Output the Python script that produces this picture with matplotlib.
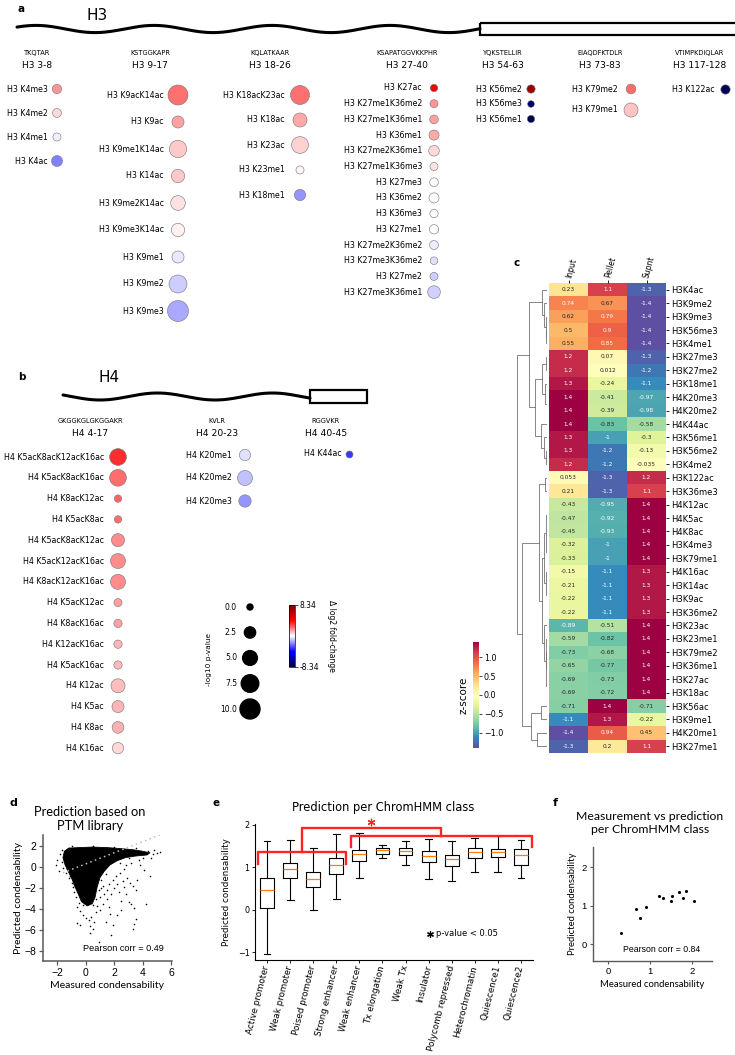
import numpy as np
import matplotlib
matplotlib.use('Agg')
import matplotlib.pyplot as plt
import seaborn as sns
from matplotlib.colors import Normalize
from matplotlib.cm import ScalarMappable
from matplotlib.patches import Rectangle

# ---------------- panel a: H3 peptides ----------------
h3_seq = ['TKQTAR', 'KSTGGKAPR', 'KQLATKAAR', 'KSAPATGGVKKPHR',
          'YQKSTELLIR', 'EIAQDFKTDLR', 'VTIMPKDIQLAR']
h3_region = ['H3 3-8', 'H3 9-17', 'H3 18-26', 'H3 27-40',
             'H3 54-63', 'H3 73-83', 'H3 117-128']
h3_marks = [
    ['H3 K4me3', 'H3 K4me2', 'H3 K4me1', 'H3 K4ac'],
    ['H3 K9acK14ac', 'H3 K9ac', 'H3 K9me1K14ac', 'H3 K14ac', 'H3 K9me2K14ac',
     'H3 K9me3K14ac', 'H3 K9me1', 'H3 K9me2', 'H3 K9me3'],
    ['H3 K18acK23ac', 'H3 K18ac', 'H3 K23ac', 'H3 K23me1', 'H3 K18me1'],
    ['H3 K27ac', 'H3 K27me1K36me2', 'H3 K27me1K36me1', 'H3 K36me1',
     'H3 K27me2K36me1', 'H3 K27me1K36me3', 'H3 K27me3', 'H3 K36me2',
     'H3 K36me3', 'H3 K27me1', 'H3 K27me2K36me2', 'H3 K27me3K36me2',
     'H3 K27me2', 'H3 K27me3K36me1'],
    ['H3 K56me2', 'H3 K56me3', 'H3 K56me1'],
    ['H3 K79me2', 'H3 K79me1'],
    ['H3 K122ac'],
]
h3_fc = [
    [1.7, 0.65, -0.25, -2.05],
    [2.3, 1.5, 0.9, 0.85, 0.5, 0.25, -0.33, -0.83, -1.4],
    [2.3, 1.4, 0.75, 0.15, -1.7],
    [4.5, 1.7, 1.5, 1.4, 0.65, 0.5, 0.05, 0.02, 0.0, -0.05, -0.3, -0.5, -0.8, -0.75],
    [7.3, -7.6, -8.3],
    [2.4, 0.95],
    [-8.0],
]
h3_p = [
    [1.4, 1.2, 0.8, 2.3],
    [10, 3, 7.3, 3.9, 4.9, 3.9, 3, 7.9, 11.1],
    [8.9, 4.4, 6.7, 0.8, 2.5],
    [0.5, 0.8, 1.1, 1.8, 2.1, 0.8, 1.1, 1.8, 0.9, 1.4, 1.2, 0.6, 0.8, 3.4],
    [0.9, 0.25, 0.5],
    [1.6, 4.4],
    [1.4],
]

# ---------------- panel b: H4 peptides ----------------
h4_seq = ['GKGGKGLGKGGAKR', 'KVLR', 'RGGVKR']
h4_region = ['H4 4-17', 'H4 20-23', 'H4 40-45']
h4_marks = [
    ['H4 K5acK8acK12acK16ac', 'H4 K5acK8acK16ac', 'H4 K8acK12ac', 'H4 K5acK8ac',
     'H4 K5acK8acK12ac', 'H4 K5acK12acK16ac', 'H4 K8acK12acK16ac', 'H4 K5acK12ac',
     'H4 K8acK16ac', 'H4 K12acK16ac', 'H4 K5acK16ac', 'H4 K12ac', 'H4 K5ac',
     'H4 K8ac', 'H4 K16ac'],
    ['H4 K20me1', 'H4 K20me2', 'H4 K20me3'],
    ['H4 K44ac'],
]
h4_fc = [
    [3.4, 2.4, 2.5, 2.4, 1.85, 1.85, 1.85, 1.55, 1.5, 1.2, 1.15, 1.05, 1.2, 1.3, 0.65],
    [-0.5, -1.0, -1.7],
    [-3.2],
]
h4_p = [
    [6.7, 6.7, 0.5, 0.5, 3.7, 5.2, 5.2, 0.8, 0.9, 0.9, 0.9, 4.4, 3.0, 2.8, 2.5],
    [2.5, 5.2, 3.2],
    [0.36],
]
legend_p = [0.0, 2.5, 5.0, 7.5, 10.0]
fc_lim = 8.34

# ---------------- panel c: z-scored heatmap ----------------
heat_cols = ['Input', 'Pellet', 'Supnt']
heat_rows = ['H3K4ac', 'H3K9me2', 'H3K9me3', 'H3K56me3', 'H3K4me1', 'H3K27me3',
             'H3K27me2', 'H3K18me1', 'H4K20me3', 'H4K20me2', 'H4K44ac', 'H3K56me1',
             'H3K56me2', 'H3K4me2', 'H3K122ac', 'H3K36me3', 'H4K12ac', 'H4K5ac',
             'H4K8ac', 'H3K4me3', 'H3K79me1', 'H4K16ac', 'H3K14ac', 'H3K9ac',
             'H3K36me2', 'H3K23ac', 'H3K23me1', 'H3K79me2', 'H3K36me1', 'H3K27ac',
             'H3K18ac', 'H3K56ac', 'H3K9me1', 'H4K20me1', 'H3K27me1']
heat_input = [0.23, 0.74, 0.62, 0.5, 0.55, 1.2, 1.2, 1.3, 1.4, 1.4, 1.4, 1.3, 1.3, 1.2,
              0.053, 0.21, -0.43, -0.47, -0.45, -0.32, -0.33, -0.15, -0.21, -0.22,
              -0.22, -0.89, -0.59, -0.73, -0.65, -0.69, -0.69, -0.71, -1.1, -1.4, -1.3]
heat_pellet = [1.1, 0.67, 0.79, 0.9, 0.85, 0.07, 0.012, -0.24, -0.41, -0.39, -0.83, -1,
               -1.2, -1.2, -1.3, -1.3, -0.95, -0.92, -0.93, -1, -1, -1.1, -1.1, -1.1,
               -1.1, -0.51, -0.82, -0.68, -0.77, -0.73, -0.72, 1.4, 1.3, 0.94, 0.2]
heat_supnt = [-1.3, -1.4, -1.4, -1.4, -1.4, -1.3, -1.2, -1.1, -0.97, -0.98, -0.58, -0.3,
              -0.13, -0.035, 1.2, 1.1, 1.4, 1.4, 1.4, 1.4, 1.4, 1.3, 1.3, 1.3, 1.3, 1.4,
              1.4, 1.4, 1.4, 1.4, 1.4, -0.71, -0.22, 0.45, 1.1]

# ---------------- panel d: prediction vs measurement (single regions) ----------------
# dense core of the cloud, traced as an outline (measured, predicted)
core_x = [-1.5, -1.2, -0.5, 0.5, 1.5, 2.5, 3.3, 4.0, 4.5, 4.3, 3.5, 2.8, 2.2, 1.7,
          1.3, 1.0, 0.8, 0.65, 0.45, 0.1, -0.3, -0.55, -0.75, -0.95, -1.2, -1.45, -1.6]
core_y = [1.5, 1.8, 1.85, 1.9, 1.85, 1.75, 1.65, 1.5, 1.35, 1.15, 1.05, 0.9, 0.6, 0.2,
          -0.4, -1.0, -1.9, -2.9, -3.5, -3.7, -3.3, -2.5, -1.9, -1.2, -0.5, 0.2, 0.9]
# scattered points outside the core
pts_x = [-2.1, -2.0, -1.9, -1.7, -1.6, -1.5, -1.8, -1.4, -1.2, -1.0, -0.9, -0.8, -0.7,
         -0.5, -0.6, -0.4, -0.2, -0.6, -0.4, 0.0, 0.2, 0.4, 0.3, 0.6, 0.3, 0.5, 0.9,
         0.7, 1.0, 0.8, 1.2, 1.0, 1.3, 1.5, 1.6, 1.9, 2.1, 2.4, 1.8, 2.0, 2.2, 2.6,
         2.9, 3.1, 3.3, 3.5, 3.6, 2.8, 2.5, 3.0, 3.2, 1.8, 1.7, 1.4, 1.9, 2.2, 2.5,
         3.3, 3.4, 3.5, 3.4, 4.2, 4.5, 4.1, 3.8, 3.2, 2.8, 4.6, 5.0, 5.2, 4.8, 4.4,
         1.5, 1.2, 0.9, 1.1, 2.7, 3.0, -1.2, -1.0, 0.5, 2.0, 3.5, -0.9, -0.2, 0.5,
         1.6, 2.3, 2.7, 4.7, 4.0, 3.7, 2.4, 1.4, -1.7, -1.3, -1.1, -0.8, 0.7, 1.1]
pts_y = [0.2, 0.7, -0.4, 0.5, -0.1, 0.9, 1.2, -0.6, -1.0, -1.5, -1.9, -2.4, -2.9,
         -3.4, -3.8, -4.2, -4.6, -5.3, -5.5, -4.9, -5.0, -4.8, -5.6, -5.2, -6.3, -5.9,
         -7.1, -4.3, -4.1, -3.7, -3.5, -2.9, -2.6, -2.2, -1.6, -1.2, -0.9, -0.6, -2.6,
         -2.0, -1.6, -1.3, -1.0, -1.5, -1.8, -2.2, -1.2, -2.6, -3.2, -3.3, -3.5, -6.5,
         -4.5, -5.2, -5.5, -4.6, -4.1, -5.9, -5.4, -4.95, -3.9, -3.5, -0.9, -0.3, 0.2,
         0.4, 0.2, 0.9, 1.3, 1.4, 1.6, 1.5, -3.0, -1.8, -2.2, -1.2, -0.2, 0.9, 1.8,
         2.0, 2.0, 1.9, 1.8, -0.8, -3.6, -3.6, -3.8, -2.4, -1.9, 1.2, 0.9, 0.7, 0.4,
         -0.7, 1.6, -0.2, -0.9, -1.6, -3.0, -2.0]
fit_x = [-1.6, 5.2]
fit_y = [-0.55, 3.06]

# ---------------- panel e: boxplot per ChromHMM class ----------------
hmm_classes = ['Active promoter', 'Weak promoter', 'Poised promoter', 'Strong enhancer',
               'Weak enhancer', 'Tx elongation', 'Weak Tx', 'Insulator',
               'Polycomb repressed', 'Heterochromatin', 'Quiescence1', 'Quiescence2']
box_med = [0.47, 0.96, 0.72, 1.05, 1.31, 1.40, 1.39, 1.26, 1.19, 1.35, 1.36, 1.29]
box_q1 = [0.04, 0.76, 0.54, 0.84, 1.16, 1.32, 1.30, 1.12, 1.04, 1.21, 1.25, 1.05]
box_q3 = [0.76, 1.11, 0.90, 1.22, 1.41, 1.45, 1.45, 1.39, 1.29, 1.45, 1.44, 1.43]
box_lo = [-1.04, 0.23, 0.0, 0.25, 0.76, 1.23, 1.05, 0.72, 0.69, 0.90, 0.90, 0.75]
box_hi = [1.62, 1.65, 1.45, 1.79, 1.80, 1.53, 1.61, 1.66, 1.61, 1.68, 1.74, 1.65]

# ---------------- panel f: class means ----------------
f_meas = [0.30, 0.67, 0.75, 0.90, 1.22, 1.32, 1.49, 1.52, 1.70, 1.79, 1.86, 2.05]
f_pred = [0.28, 0.90, 0.68, 0.97, 1.25, 1.20, 1.12, 1.26, 1.35, 1.20, 1.38, 1.12]

# =====================================================================
W, H = 735, 1055
fig = plt.figure(figsize=(7.35, 10.55), dpi=100)


def box(x0, y0, x1, y1):
    # pixel box (origin top-left) -> figure rect
    return [x0 / W, 1 - y1 / H, (x1 - x0) / W, (y1 - y0) / H]


def ftext(x, y, s, **kw):
    fig.text(x / W, 1 - y / H, s, **kw)


def bubble(p):
    # marker area in pt^2 from -log10 p-value
    return (36 + 36.4 * np.asarray(p, dtype=float)) * 0.5184


norm = Normalize(-fc_lim, fc_lim)
ax0 = fig.add_axes([0, 0, 1, 1])
ax0.set_xlim(0, W)
ax0.set_ylim(H, 0)
ax0.axis('off')


def draw_cols(seqs, regions, marks, fcs, ps, hx, cx, lx, y0, dy, yseq):
    for j in range(len(seqs)):
        ax0.text(hx[j], yseq, seqs[j], fontsize=4.8, ha='center', va='center')
        ax0.text(hx[j], yseq + 13, regions[j], fontsize=6.6, ha='center', va='center')
        ys = y0[j] + dy[j] * np.arange(len(marks[j]))
        ax0.scatter(np.full(len(ys), cx[j]), ys, s=bubble(ps[j]), c=fcs[j],
                    cmap='seismic', norm=norm, edgecolors='0.45', linewidths=0.4, zorder=3)
        for name, y in zip(marks[j], ys):
            ax0.text(lx[j], y, name, fontsize=5.7, ha='right', va='center')


# H3 schematic
xw = np.linspace(17, 480, 400)
ax0.plot(xw, 29 + 3.6 * np.cos(2 * np.pi * (xw - 95) / 118), color='k', lw=2.2,
         solid_capstyle='round')
ax0.add_patch(Rectangle((480, 23), 270, 12, fill=False, ec='k', lw=1.6))
draw_cols(h3_seq, h3_region, h3_marks, h3_fc, h3_p,
          hx=[37, 150, 270, 407, 503, 600, 700],
          cx=[57, 178, 300, 434, 531, 631, 725],
          lx=[48, 164, 285, 422, 522, 618, 715],
          y0=[89, 95, 95, 88, 89, 89, 89],
          dy=[24, 27, 25, 15.7, 15, 21, 0], yseq=53)
ftext(18, 9, 'a', fontsize=7.5, fontweight='bold', va='center')
ftext(87, 15, 'H3', fontsize=11, va='center')

# H4 schematic
xw = np.linspace(63, 310, 300)
ax0.plot(xw, 396.5 + 3.5 * np.cos(2 * np.pi * (xw - 100) / 115), color='k', lw=2.2,
         solid_capstyle='round')
ax0.add_patch(Rectangle((310, 390), 57, 13, fill=False, ec='k', lw=1.6))
draw_cols(h4_seq, h4_region, h4_marks, h4_fc, h4_p,
          hx=[90, 217, 326], cx=[118, 245, 349], lx=[104, 232, 342],
          y0=[457, 455, 454], dy=[20.8, 23, 0], yseq=421)
ftext(18, 377, 'b', fontsize=7.5, fontweight='bold', va='center')
ftext(98, 377, 'H4', fontsize=11, va='center')

# size legend
ly = 607 + 25.5 * np.arange(len(legend_p))
ax0.scatter(np.full(len(ly), 250), ly, s=bubble(legend_p), c='k', zorder=3)
for v, y in zip(legend_p, ly):
    ax0.text(237, y, '%.1f' % v, fontsize=5.5, ha='right', va='center')
ax0.text(209, 660, '-log10 p-value', fontsize=5.3, rotation=90, ha='center', va='center')

cb_ax = fig.add_axes(box(289, 605, 295, 667))
cb = fig.colorbar(ScalarMappable(norm=norm, cmap='seismic'), cax=cb_ax,
                  ticks=[-fc_lim, fc_lim])
cb.ax.set_yticklabels(['-8.34', '8.34'])
cb.ax.tick_params(labelsize=5.5, length=2, width=0.5, pad=1.5)
cb.set_label('Δ log2 fold-change', rotation=270, fontsize=5.5, labelpad=12)
cb.outline.set_linewidth(0.5)

# ---------------- panel c ----------------
zdata = np.array([heat_input, heat_pellet, heat_supnt]).T
axh = fig.add_axes(box(549, 283, 666, 753))
zcax = fig.add_axes(box(473, 642, 479, 748))
sns.heatmap(zdata, ax=axh, cbar_ax=zcax, cmap='Spectral_r', vmin=-1.4, vmax=1.4,
            annot=True, fmt='.2g', annot_kws={'fontsize': 4.2},
            xticklabels=heat_cols, yticklabels=heat_rows)
axh.yaxis.tick_right()
axh.xaxis.tick_top()
axh.tick_params(axis='y', labelsize=6, length=2.5, width=0.6, pad=1.5, labelrotation=0)
axh.tick_params(axis='x', labelsize=5.5, length=2.5, width=0.6, pad=1.5)
for lab in axh.get_xticklabels():
    lab.set_rotation(75)
    lab.set_rotation_mode('anchor')
    lab.set_ha('left')
    lab.set_va('center')
zcax.tick_params(labelsize=5.8, length=2, width=0.5, pad=1.5)
zcax.set_yticks([-1.0, -0.5, 0.0, 0.5, 1.0])
zcax.yaxis.set_label_position('left')
zcax.set_ylabel('z-score', fontsize=7.5, labelpad=3)
ftext(513, 263, 'c', fontsize=7.5, fontweight='bold', va='center')

# row dendrogram (average linkage, euclidean)
n = len(zdata)
dist = np.sqrt(((zdata[:, None, :] - zdata[None, :, :]) ** 2).sum(-1))
groups = [[i] for i in range(n)]
gpos = [i + 0.5 for i in range(n)]
ghgt = [0.0] * n
axd = fig.add_axes(box(515, 283, 547, 753))
while len(groups) > 1:
    best = None
    for a in range(len(groups)):
        for b in range(a + 1, len(groups)):
            d = dist[np.ix_(groups[a], groups[b])].mean()
            if best is None or d < best[0]:
                best = (d, a, b)
    d, a, b = best
    axd.plot([ghgt[a], d, d, ghgt[b]], [gpos[a], gpos[a], gpos[b], gpos[b]],
             color='0.45', lw=0.6)
    newg, newp = groups[a] + groups[b], (gpos[a] + gpos[b]) / 2
    for k in (b, a):
        del groups[k], gpos[k], ghgt[k]
    groups.append(newg)
    gpos.append(newp)
    ghgt.append(d)
axd.set_ylim(n, 0)
axd.set_xlim(ghgt[0] * 1.05, 0)
axd.axis('off')

# ---------------- panel d ----------------
axs = fig.add_axes(box(43, 835, 172, 961))
axs.fill(core_x, core_y, color='k', lw=0.6, ec='k')
axs.scatter(pts_x, pts_y, s=1.3, c='k', lw=0)
axs.plot(fit_x, fit_y, color='0.75', lw=1.1, dashes=(1, 2.2))
axs.text(-0.2, -7.8, 'Pearson corr = 0.49', fontsize=6.6, family='Liberation Sans',
         va='center')
axs.set_xlim(-3, 6.05)
axs.set_ylim(-8.95, 3.05)
axs.set_xticks([-2, 0, 2, 4, 6])
axs.set_yticks([2, 0, -2, -4, -6, -8])
axs.spines[['top', 'right']].set_visible(False)
for sp in axs.spines.values():
    sp.set_color('0.35')
    sp.set_linewidth(1.1)
axs.tick_params(labelsize=7.5, length=3, width=0.9, color='0.35', pad=2)
for lab in axs.get_xticklabels() + axs.get_yticklabels():
    lab.set_family('Liberation Sans')
axs.set_xlabel('Measured condensability', fontsize=7.5, family='Lato', labelpad=2)
axs.set_ylabel('Predicted condensability', fontsize=7.5, family='Lato', labelpad=1)
ftext(90, 819, 'Prediction based on\nPTM library', fontsize=9.3, family='Lato',
      ha='center', va='center', linespacing=1.15)
ftext(10, 803, 'd', fontsize=8, fontweight='bold', va='center')

# ---------------- panel e ----------------
axe = fig.add_axes(box(255, 824, 533, 960))
stats = [dict(med=m, q1=a, q3=b, whislo=lo, whishi=hi, label=c)
         for m, a, b, lo, hi, c in zip(box_med, box_q1, box_q3, box_lo, box_hi, hmm_classes)]
axe.bxp(stats, positions=range(1, 13), widths=0.6, showfliers=False,
        boxprops=dict(lw=0.8), whiskerprops=dict(lw=0.8), capprops=dict(lw=0.8),
        medianprops=dict(color='#ff7f0e', lw=0.9))
red = '#ff2424'
axe.plot([0.6, 0.6, 4.4, 4.4], [1.08, 1.37, 1.37, 1.08], color=red, lw=1.7, clip_on=False)
axe.plot([4.64, 4.64, 12.47, 12.47], [1.48, 1.74, 1.74, 1.48], color=red, lw=1.7,
         clip_on=False)
axe.plot([2.5, 2.5, 8.55, 8.55], [1.37, 1.93, 1.93, 1.74], color=red, lw=1.7,
         clip_on=False)
axe.scatter([5.5], [2.07], marker=(6, 2, 0), s=22, color=red, lw=0.9, clip_on=False)
axe.scatter([8.05], [-0.56], marker=(6, 2, 0), s=18, color='k', lw=0.9)
axe.text(8.3, -0.55, 'p-value < 0.05', fontsize=6, va='center')
axe.set_xlim(0.48, 12.52)
axe.set_ylim(-1.18, 2.02)
axe.set_yticks([-1, 0, 1, 2])
axe.spines[['top', 'right']].set_visible(False)
axe.tick_params(labelsize=5.8, length=2.5, width=0.6, pad=1.5)
for lab in axe.get_xticklabels():
    lab.set_rotation(76)
    lab.set_rotation_mode('anchor')
    lab.set_ha('right')
    lab.set_va('center')
    lab.set_fontsize(6.3)
axe.set_ylabel('Predicted condensability', fontsize=6.3, labelpad=5)
ftext(383, 808, 'Prediction per ChromHMM class', fontsize=8.3, ha='center', va='center')
ftext(213, 803, 'e', fontsize=7.5, fontweight='bold', va='center')

# ---------------- panel f ----------------
axf = fig.add_axes(box(593, 847, 712, 961))
axf.scatter(f_meas, f_pred, s=5, c='k', lw=0)
axf.text(0.36, -0.13, 'Pearson corr = 0.84', fontsize=6.3, family='Liberation Sans',
         va='center')
axf.set_xlim(-0.36, 2.48)
axf.set_ylim(-0.44, 2.52)
axf.set_xticks([0, 1, 2])
axf.set_yticks([0, 1, 2])
axf.spines[['top', 'right']].set_visible(False)
for sp in axf.spines.values():
    sp.set_color('0.35')
    sp.set_linewidth(1.0)
axf.tick_params(labelsize=6.8, length=2.5, width=0.8, color='0.35', pad=2)
for lab in axf.get_xticklabels() + axf.get_yticklabels():
    lab.set_family('Liberation Sans')
axf.set_xlabel('Measured condensability', fontsize=6.8, family='Lato', labelpad=3)
axf.set_ylabel('Predicted condensability', fontsize=6.8, family='Lato', labelpad=3)
ftext(650, 823, 'Measurement vs prediction\nper ChromHMM class', fontsize=8.8,
      family='Lato', ha='center', va='center', linespacing=1.15)
ftext(553, 803, 'f', fontsize=8, fontweight='bold', va='center')

fig.savefig('out.png', dpi=100)
